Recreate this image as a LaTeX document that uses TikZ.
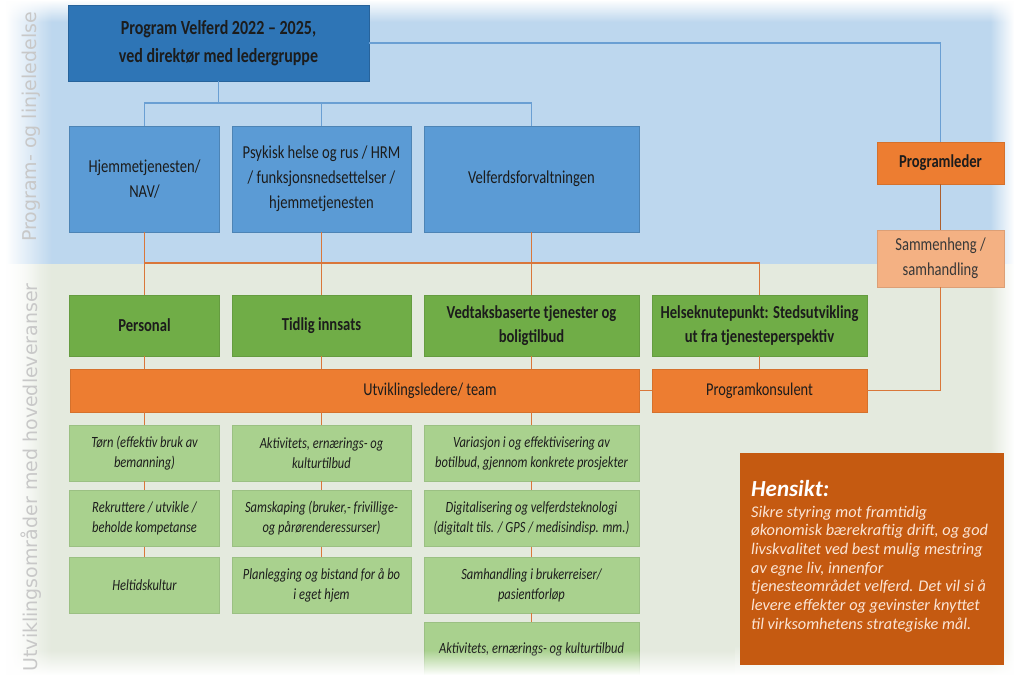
\documentclass[tikz,border=0pt]{standalone}
\usepackage{fontspec}
\setmainfont{Carlito}[FakeStretch=0.8]
\newfontfamily\henfont{Carlito}
\newfontfamily\sidefont{DejaVu Sans}
\usetikzlibrary{fadings}
\definecolor{bandblue}{HTML}{BDD7EE}
\definecolor{bandgreen}{HTML}{E4EADE}
\definecolor{topblue}{HTML}{2E75B6}
\definecolor{midblue}{HTML}{5B9BD5}
\definecolor{lineblue}{HTML}{6A9FD3}
\definecolor{greenA}{HTML}{70AD47}
\definecolor{greenB}{HTML}{A9D18E}
\definecolor{orangeA}{HTML}{ED7D31}
\definecolor{orangeB}{HTML}{F4B183}
\definecolor{orangeC}{HTML}{C55A11}
\definecolor{lineorange}{HTML}{D9773A}
\definecolor{txt}{HTML}{1C1C1C}
\definecolor{sidegray}{HTML}{C8C8C8}
\definecolor{hentxt}{HTML}{FBE5D6}
\tikzfading[name=fadeR, left color=transparent!0, right color=transparent!100]
\tikzfading[name=fadeL, left color=transparent!100, right color=transparent!0]
\tikzfading[name=fadeD, top color=transparent!0, bottom color=transparent!100]
\tikzfading[name=fadeU, top color=transparent!100, bottom color=transparent!0]
\begin{document}
\begin{tikzpicture}[x=1pt,y=-1pt,
  bx/.style={inner sep=0pt, align=center, text=txt, line width=0.8pt},
  topbox/.style={bx, fill=topblue, draw=topblue!85!black, font=\fontsize{20}{28}\selectfont\bfseries},
  bluebox/.style={bx, fill=midblue, draw=midblue!85!black, font=\fontsize{18.25}{25}\selectfont},
  greenbox/.style={bx, fill=greenA, draw=greenA!90!black, font=\fontsize{18.3}{24}\selectfont\bfseries},
  detbox/.style={bx, fill=greenB, draw=greenB!92!black, font=\fontsize{15.6}{20}\selectfont\itshape},
  orbox/.style={bx, fill=orangeA, draw=orangeA!90!black, font=\fontsize{18}{24}\selectfont},
  orlight/.style={bx, fill=orangeB, draw=orangeB!90!black, text=black!78, font=\fontsize{18.25}{25}\selectfont},
  bline/.style={draw=lineblue, line width=1.4pt},
  oline/.style={draw=lineorange, line width=1.4pt},
  sidelab/.style={inner sep=0pt, text=sidegray, font=\sidefont\fontsize{19}{22}\selectfont}
]
\useasboundingbox (0,0) rectangle (1018,675);
% bands
\fill[bandblue] (0,0) rectangle (1018,264);
\fill[bandgreen] (0,264) rectangle (1018,675);
% soft edges
\fill[white] (0,0) rectangle (6,675);
\fill[white, path fading=fadeR] (6,0) rectangle (52,675);
\fill[white, path fading=fadeD] (0,0) rectangle (1018,22);
\fill[white, path fading=fadeL] (990,0) rectangle (1014,675);
\fill[white] (1014,0) rectangle (1018,675);
\fill[white, path fading=fadeU] (735,645) rectangle (1018,675);

% top level
\node[topbox, minimum width=301pt, minimum height=76pt] (top) at (218.5,43) {Program Velferd 2022 -- 2025,\\ ved direktør med ledergruppe};
\node[bluebox, minimum width=150pt, minimum height=106pt] (b1) at (144.5,179) {Hjemmetjenesten/\\ NAV/};
\node[bluebox, minimum width=179pt, minimum height=106pt] (b2) at (321.5,179) {Psykisk helse og rus / HRM\\ / funksjonsnedsettelser /\\ hjemmetjenesten};
\node[bluebox, minimum width=215pt, minimum height=106pt] (b3) at (531.5,179) {Velferdsforvaltningen};

\node[orbox, font=\fontsize{18.25}{24}\selectfont\bfseries, minimum width=127pt, minimum height=42pt] (pl) at (940.5,163) {Programleder};
\node[orlight, minimum width=127pt, minimum height=57pt] (sam) at (940.5,258.5) {Sammenheng /\\ samhandling};

% green
\node[greenbox, minimum width=150pt, minimum height=61pt] (g1) at (144.5,325.5) {Personal};
\node[greenbox, minimum width=179pt, minimum height=61pt] (g2) at (321.5,325.5) {Tidlig innsats};
\node[greenbox, minimum width=215pt, minimum height=61pt] (g3) at (531.5,325.5) {Vedtaksbaserte tjenester og\\ boligtilbud};
\node[greenbox, minimum width=215pt, minimum height=61pt] (g4) at (759.5,325.5) {Helseknutepunkt: Stedsutvikling\\ ut fra tjenesteperspektiv};

% orange bar
\node[orbox, minimum width=569pt, minimum height=43pt] (utv) at (354.5,390.5) {};
\node[inner sep=0pt, text=txt, font=\fontsize{18}{24}\selectfont] (utvlab) at (430,391) {Utviklingsledere/ team};
\node[orbox, minimum width=215pt, minimum height=43pt] (pk) at (759.5,390.5) {Programkonsulent};

% details
\node[detbox, minimum width=150pt, minimum height=56pt] (d11) at (144.5,453) {Tørn (effektiv bruk av\\ bemanning)};
\node[detbox, minimum width=150pt, minimum height=56pt] (d12) at (144.5,518.5) {Rekruttere / utvikle /\\ beholde kompetanse};
\node[detbox, minimum width=150pt, minimum height=56pt] (d13) at (144.5,585) {Heltidskultur};
\node[detbox, minimum width=179pt, minimum height=56pt] (d21) at (321.5,453) {Aktivitets, ernærings- og\\ kulturtilbud};
\node[detbox, minimum width=179pt, minimum height=56pt] (d22) at (321.5,518.5) {Samskaping (bruker,- frivillige-\\ og pårørenderessurser)};
\node[detbox, minimum width=179pt, minimum height=56pt] (d23) at (321.5,585) {Planlegging og bistand for å bo\\ i eget hjem};
\node[detbox, minimum width=215pt, minimum height=56pt] (d31) at (531.5,453) {Variasjon i og effektivisering av\\ botilbud, gjennom konkrete prosjekter};
\node[detbox, minimum width=215pt, minimum height=56pt] (d32) at (531.5,518.5) {Digitalisering og velferdsteknologi\\ (digitalt tils. / GPS / medisindisp. mm.)};
\node[detbox, minimum width=215pt, minimum height=56pt] (d33) at (531.5,585) {Samhandling i brukerreiser/\\ pasientforløp};
\node[detbox, minimum width=215pt, minimum height=54pt] (d34) at (531.5,649) {Aktivitets, ernærings- og kulturtilbud};

% Hensikt
\node[fill=orangeC, minimum width=264pt, minimum height=212pt, inner sep=0pt] (hen) at (872,559) {};
\node[anchor=north west, inner sep=0pt, align=left, text=hentxt, font=\henfont\fontsize{16.3}{18.7}\selectfont\itshape] (hentext) at (751,480)
 {{\fontsize{23}{24}\selectfont\bfseries\color{white}Hensikt:}\\[2pt]
 Sikre styring mot framtidig\\
 økonomisk bærekraftig drift, og god\\
 livskvalitet ved best mulig mestring\\
 av egne liv, innenfor\\
 tjenesteområdet velferd. Det vil si å\\
 levere effekter og gevinster knyttet\\
 til virksomhetens strategiske mål.};

% blue connectors
\coordinate (bj) at (218.5,103);
\draw[bline] (top.east) -| (pl.north);
\draw[bline] (top.south) -- (bj);
\draw[bline] (b1.north) |- (bj) -| (b3.north);
\draw[bline] (b2.north) -- (b2.north |- bj);

% orange connectors
\coordinate (oj) at (144.5,263);
\draw[oline] (b1.south) -- (g1.north);
\draw[oline] (b2.south) -- (g2.north);
\draw[oline] (b3.south) -- (g3.north);
\draw[oline] (oj) -| (g4.north);
\draw[oline] (g1.south) -- (g1.south |- utv.north);
\draw[oline] (g2.south) -- (g2.south |- utv.north);
\draw[oline] (g3.south) -- (g3.south |- utv.north);
\draw[oline] (g4.south) -- (pk.north);
\draw[oline] (utv.east) -- (pk.west);
\draw[oline] (pk.east) -| (sam.south);
\draw[draw=lineorange!80!black, line width=1.4pt] (pl.south) -- (sam.north);
\draw[oline] (g1.south |- utv.south) -- (d11.north);
\draw[oline] (d11.south) -- (d12.north);
\draw[oline] (d12.south) -- (d13.north);
\draw[oline] (g2.south |- utv.south) -- (d21.north);
\draw[oline] (d21.south) -- (d22.north);
\draw[oline] (d22.south) -- (d23.north);
\draw[oline] (g3.south |- utv.south) -- (d31.north);
\draw[oline] (d31.south) -- (d32.north);
\draw[oline] (d32.south) -- (d33.north);
\draw[oline] (d33.south) -- (d34.north);

% bottom fade over lower content
\fill[white, path fading=fadeU] (0,650) rectangle (735,675);
\fill[white, path fading=fadeR] (0,264) rectangle (40,675);

% side labels
\node[sidelab, rotate=90] (lab1) at (31,127) {Program- og linjeledelse};
\node[sidelab, rotate=90, anchor=east] (lab2) at (31,283) {Utviklingsområder med hovedleveranser};
\end{tikzpicture}
\end{document}
